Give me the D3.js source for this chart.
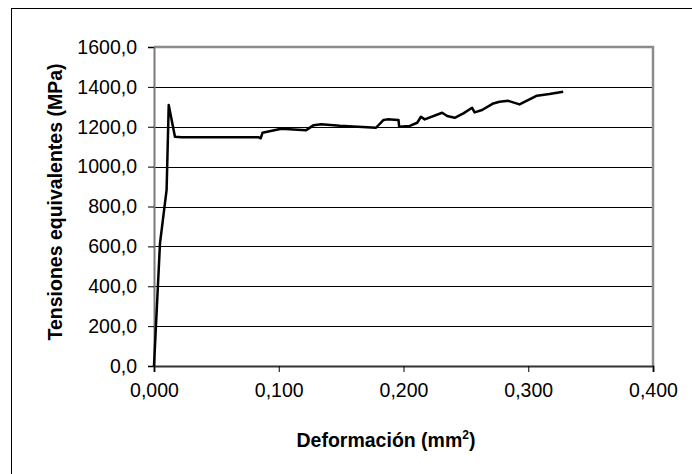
<!DOCTYPE html>
<html>
<head>
<meta charset="utf-8">
<script src="https://cdn.jsdelivr.net/npm/d3@7"></script>
<style>
  body { margin: 0; background: #fff; }
  svg { display: block; font-family: "Liberation Sans", Arial, sans-serif; }
</style>
</head>
<body>
<div id="chart"></div>
<script>
// Curve: deformation (mm2) and equivalent stress (MPa)
const deformacion = [0, 0.0048, 0.0101, 0.0118, 0.0168, 0.0222, 0.084, 0.0855, 0.087, 0.102,
  0.122, 0.128, 0.134, 0.149, 0.178, 0.181, 0.184, 0.187, 0.196, 0.1965, 0.205, 0.211,
  0.214, 0.217, 0.231, 0.235, 0.241, 0.248, 0.255, 0.257, 0.263, 0.272, 0.277, 0.284,
  0.293, 0.307, 0.317, 0.328];
const tensiones = [0, 615, 883, 1309, 1150, 1147, 1147, 1142, 1170, 1190,
  1183, 1208, 1213, 1205, 1195, 1215, 1234, 1237, 1234, 1200, 1204, 1220,
  1250, 1237, 1270, 1254, 1245, 1267, 1295, 1272, 1284, 1317, 1325, 1330,
  1312, 1356, 1364, 1376];
const yTicks = [0, 200, 400, 600, 800, 1000, 1200, 1400, 1600];
const xTicks = [0, 0.1, 0.2, 0.3, 0.4];

const width = 692;
const height = 474;
const plot = { left: 154, right: 653, top: 47, bottom: 366 };

const svg = d3.select("#chart").append("svg")
  .attr("width", width)
  .attr("height", height);

// outer chart frame (only left and top edges fall inside the picture)
svg.append("rect")
  .attr("x", 11.5).attr("y", 8.5)
  .attr("width", 720).attr("height", 520)
  .attr("fill", "none").attr("stroke", "#000").attr("stroke-width", 1);

const x = d3.scaleLinear().domain([0, 0.4]).range([plot.left, plot.right]);
const y = d3.scaleLinear().domain([0, 1600]).range([plot.bottom, plot.top]);

const fmt = d => d3.format(".3f")(d).replace(".", ",");
const fmtY = d => d3.format(".1f")(d).replace(".", ",");

// gridlines
svg.append("g")
  .selectAll("line")
  .data(yTicks.filter(d => d > 0 && d < 1600))
  .join("line")
  .attr("x1", plot.left).attr("x2", plot.right)
  .attr("y1", d => Math.round(y(d)) + 0.5).attr("y2", d => Math.round(y(d)) + 0.5)
  .attr("stroke", "#000").attr("stroke-width", 1);

// plot frame: top and right gray
svg.append("path")
  .attr("d", `M${plot.left},${plot.top}H${plot.right}V${plot.bottom}`)
  .attr("fill", "none").attr("stroke", "#8c8c8c").attr("stroke-width", 2.5);

// y axis
const yAxis = svg.append("g")
  .attr("transform", `translate(${plot.left},0)`)
  .call(d3.axisLeft(y).tickValues(yTicks).tickFormat(fmtY).tickSize(6).tickPadding(11));
yAxis.select(".domain").attr("stroke", "#7a7a7a").attr("stroke-width", 2);
yAxis.selectAll(".tick line").attr("stroke", "#000");
yAxis.selectAll("text")
  .attr("font-size", "19.5px").attr("fill", "#000")
  .attr("font-family", "'Liberation Sans', Arial, sans-serif");

// x axis
const xAxis = svg.append("g")
  .attr("transform", `translate(0,${plot.bottom})`)
  .call(d3.axisBottom(x).tickValues(xTicks).tickFormat(fmt).tickSize(6).tickPadding(11));
xAxis.select(".domain").attr("stroke", "#333").attr("stroke-width", 2);
xAxis.selectAll(".tick line").attr("stroke", "#000");
xAxis.selectAll("text")
  .attr("font-size", "19.5px").attr("fill", "#000")
  .attr("font-family", "'Liberation Sans', Arial, sans-serif");

// curve
const line = d3.line()
  .x((d, i) => x(deformacion[i]))
  .y(d => y(d));

svg.append("path")
  .datum(tensiones)
  .attr("fill", "none")
  .attr("stroke", "#000")
  .attr("stroke-width", 2.5)
  .attr("stroke-linejoin", "round")
  .attr("d", line);

// axis titles
const xTitle = svg.append("text")
  .attr("x", 386).attr("y", 447)
  .attr("text-anchor", "middle")
  .attr("font-size", "19.5px").attr("font-weight", "bold");
xTitle.append("tspan").text("Deformación (mm");
xTitle.append("tspan").attr("dy", -8).attr("font-size", "12px").text("2");
xTitle.append("tspan").attr("dy", 8).text(")");

svg.append("text")
  .attr("transform", "translate(62,202) rotate(-90)")
  .attr("text-anchor", "middle")
  .attr("font-size", "19.5px").attr("font-weight", "bold")
  .text("Tensiones equivalentes (MPa)");
</script>
</body>
</html>
